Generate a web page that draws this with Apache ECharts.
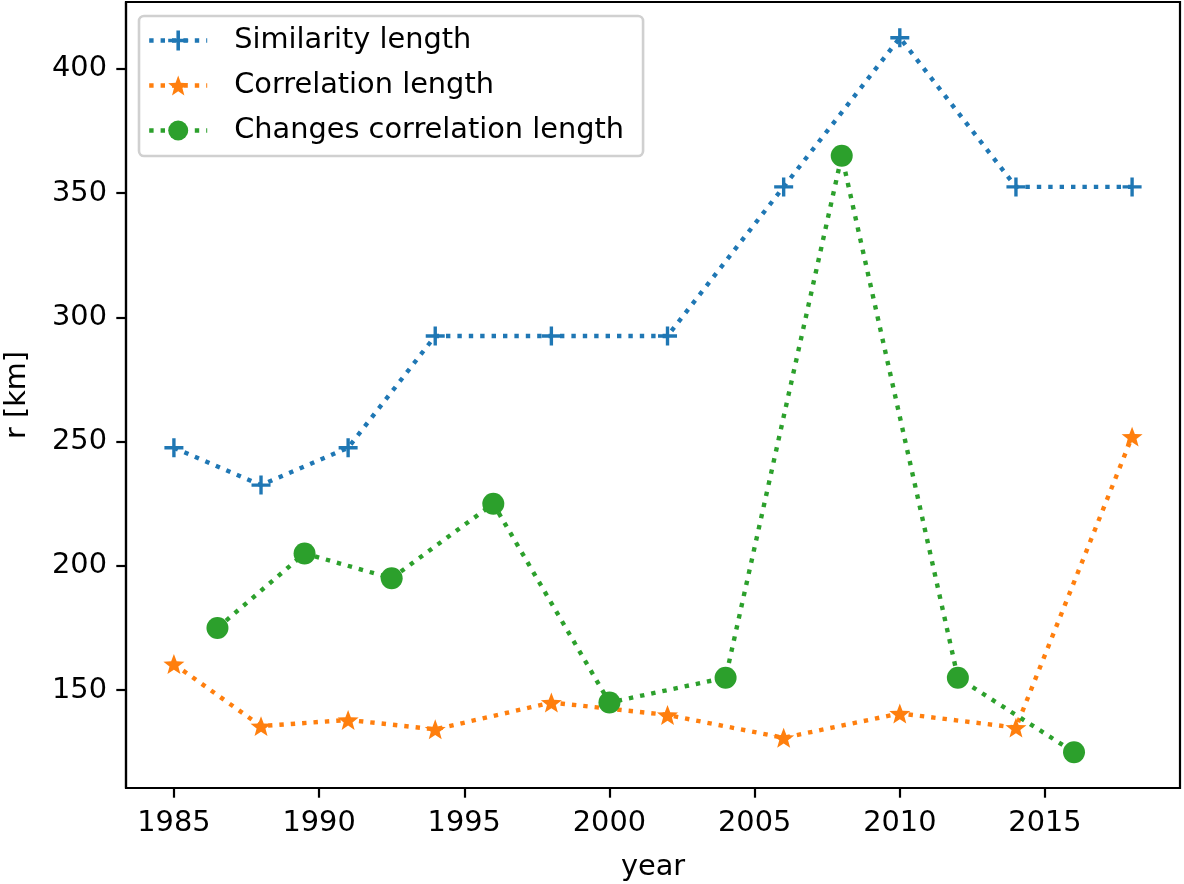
<!DOCTYPE html>
<html>
<head>
<meta charset="utf-8">
<script src="https://cdn.jsdelivr.net/npm/echarts@6/dist/echarts.min.js"></script>
<style>
html,body{margin:0;padding:0;background:#fff;}
#chart{width:1184px;height:884px;}
</style>
</head>
<body>
<div id="chart"></div>
<script>
// ---- data ----
const simYears = [1985, 1988, 1991, 1994, 1998, 2002, 2006, 2010, 2014, 2018];
const simValues = [247.5, 232.5, 247.5, 292.5, 292.5, 292.5, 352.5, 412.5, 352.5, 352.5];
const corYears = [1985, 1988, 1991, 1994, 1998, 2002, 2006, 2010, 2014, 2018];
const corValues = [160.5, 135.5, 138.0, 134.2, 145.0, 140.0, 130.8, 140.6, 134.9, 252.0];
const chgYears = [1986.5, 1989.5, 1992.5, 1996, 2000, 2004, 2008, 2012, 2016];
const chgValues = [175, 205, 195, 225, 145, 155, 365, 155, 125];
const xTicks = [1985, 1990, 1995, 2000, 2005, 2010, 2015];
const yTicks = [150, 200, 250, 300, 350, 400];
const seriesNames = ['Similarity length', 'Correlation length', 'Changes correlation length'];

const FONT = 'DejaVu Sans';
const FS = 28.8;
const C = ['#1f77b4', '#ff7f0e', '#2ca02c'];
const LW = 4.4;
const DASH = [4.4, 7.0];

function zip(xs, ys) { return xs.map((x, i) => [x, ys[i]]); }

// plus marker
const plusPath = 'path://M7.4,0H10.6V7.4H18V10.6H10.6V18H7.4V10.6H0V7.4H7.4Z';
// star marker
function starPath() {
  let s = '';
  for (let i = 0; i < 10; i++) {
    const r = (i % 2) ? 0.42 : 1;
    const a = (-90 + i * 36) * Math.PI / 180;
    const x = (r * Math.cos(a) * 100).toFixed(2);
    const y = (r * Math.sin(a) * 100).toFixed(2);
    s += (i === 0 ? 'M' : 'L') + x + ',' + y;
  }
  return 'path://' + s + 'Z';
}
const starP = starPath();
const symbols = [plusPath, starP, 'circle'];

function mkSeries(name, data, color, symbol, size, keep) {
  return {
    name: name,
    type: 'line',
    data: data,
    symbol: symbol,
    symbolSize: size,
    symbolKeepAspect: keep,
    showAllSymbol: true,
    animation: false,
    lineStyle: { color: color, width: LW, type: DASH, cap: 'butt' },
    itemStyle: { color: color, borderWidth: 0, opacity: 1 },
    emphasis: { disabled: true }
  };
}

const chart = echarts.init(document.getElementById('chart'), null, { renderer: 'canvas' });
chart.setOption({
  animation: false,
  backgroundColor: '#fff',
  textStyle: { fontFamily: FONT },
  grid: {
    left: 126, right: 4, top: 2, bottom: 96,
    outerBoundsMode: 'none', containLabel: false,
    show: true, borderColor: '#000', borderWidth: 2.2, backgroundColor: 'transparent'
  },
  legend: {
    orient: 'vertical',
    left: 139, top: 16,
    padding: [10, 19, 11, 8],
    itemWidth: 58, itemHeight: 25, itemGap: 16,
    backgroundColor: 'rgba(255,255,255,0.8)',
    borderColor: '#d0d0d0', borderWidth: 2.6, borderRadius: 5,
    textStyle: { fontFamily: FONT, fontSize: FS, color: '#000', lineHeight: 25, padding: [0, 0, 0, 22] },
    data: seriesNames.map((n, i) => ({
      name: n,
      lineStyle: { color: C[i], width: LW, type: DASH, cap: 'butt' },
      itemStyle: { color: C[i], borderWidth: 0 }
    })),
    selectedMode: false
  },
  xAxis: {
    type: 'value',
    min: 1983.35, max: 2019.65,
    name: 'year', nameLocation: 'middle', nameGap: 65,
    nameTextStyle: { fontFamily: FONT, fontSize: FS, color: '#000' },
    splitLine: { show: false },
    axisLine: { show: true, onZero: false, lineStyle: { color: '#000', width: 2.2 } },
    axisTick: { show: true, length: 9.7, lineStyle: { color: '#000', width: 2.2 }, customValues: xTicks },
    axisLabel: { fontFamily: FONT, fontSize: FS, color: '#000', margin: 21, customValues: xTicks, formatter: v => String(v) }
  },
  yAxis: {
    type: 'value',
    min: 110.6, max: 426.9,
    name: 'r [km]', nameLocation: 'middle', nameGap: 94, nameRotate: 90,
    nameTextStyle: { fontFamily: FONT, fontSize: FS, color: '#000' },
    splitLine: { show: false },
    axisLine: { show: true, onZero: false, lineStyle: { color: '#000', width: 2.2 } },
    axisTick: { show: true, length: 9.7, lineStyle: { color: '#000', width: 2.2 }, customValues: yTicks },
    axisLabel: { fontFamily: FONT, fontSize: FS, color: '#000', margin: 19, customValues: yTicks, formatter: v => String(v) }
  },
  series: [
    mkSeries(seriesNames[0], zip(simYears, simValues), C[0], symbols[0], 19, true),
    mkSeries(seriesNames[1], zip(corYears, corValues), C[1], symbols[1], 21, true),
    mkSeries(seriesNames[2], zip(chgYears, chgValues), C[2], symbols[2], 22, false)
  ]
});
</script>
</body>
</html>
